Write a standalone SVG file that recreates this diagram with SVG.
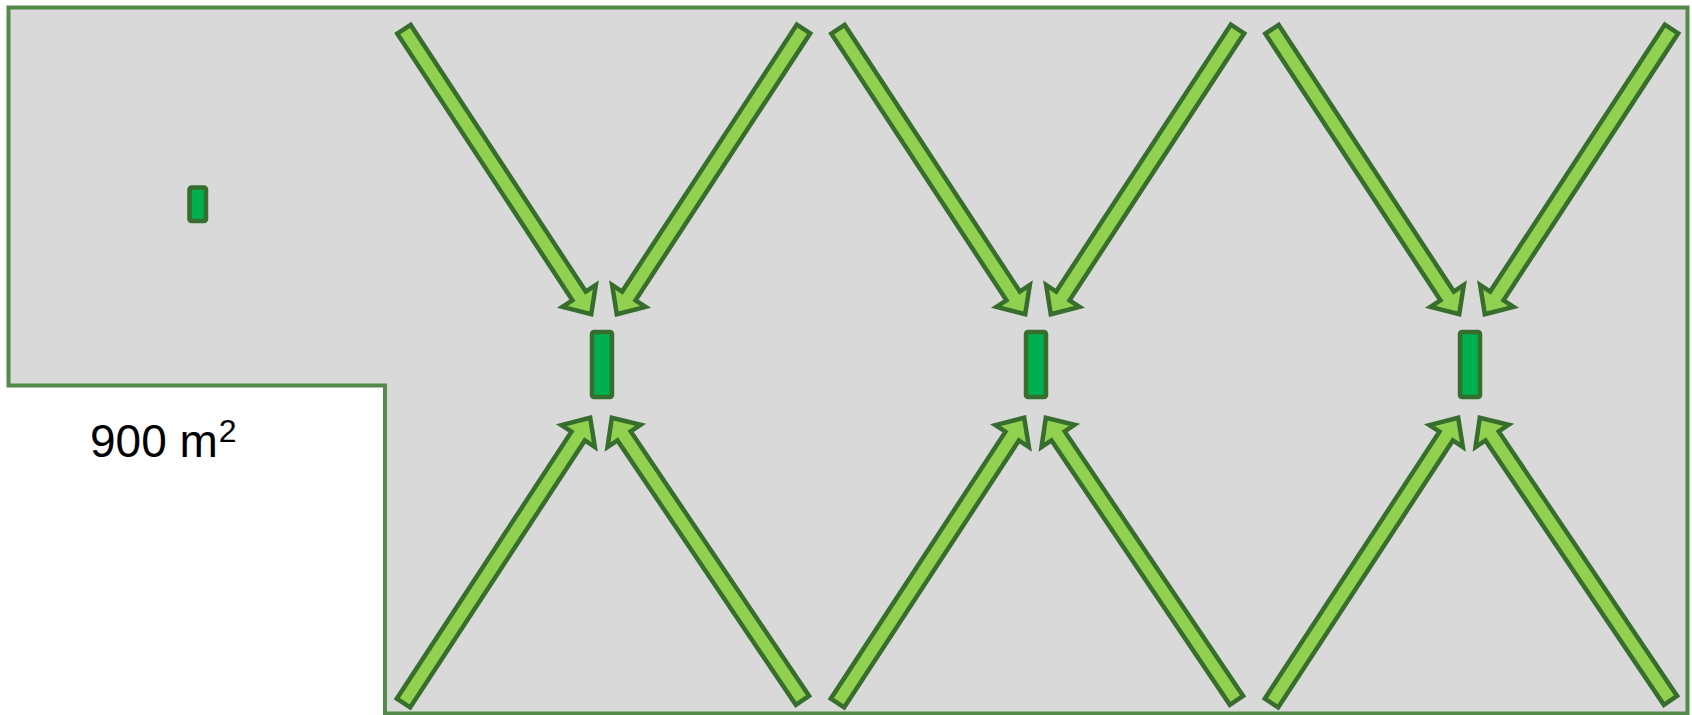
<svg xmlns="http://www.w3.org/2000/svg" xmlns:xlink="http://www.w3.org/1999/xlink" width="1692" height="715" viewBox="0 0 1692 715">
  <style>
    .floor { fill: #d9d9d9; stroke: #538a4a; stroke-width: 4; stroke-linejoin: miter; }
    .arrow { fill: #92d050; stroke: #376d2d; stroke-width: 4.5; stroke-linejoin: miter; stroke-miterlimit: 10; }
    .drain { fill: #00b050; stroke: #376d2d; stroke-width: 4.5; }
    .label { font-family: "Liberation Sans", Arial, sans-serif; fill: #000000; }
  </style>
  <defs>
    <path id="arr" d="M0,0 L-22,-20 L-22,-8 L-341,-8 L-341,8 L-22,8 L-22,20 Z"/>
    <g id="quad">
      <use xlink:href="#arr" class="arrow" transform="translate(591.2,314.3) rotate(56.7)"/>
      <use xlink:href="#arr" class="arrow" transform="translate(616.8,314.3) rotate(123.2)"/>
      <use xlink:href="#arr" class="arrow" transform="translate(590.2,417.7) rotate(-56.8)"/>
      <use xlink:href="#arr" class="arrow" transform="translate(611.8,417.7) rotate(-124)"/>
    </g>
  </defs>

  <g id="floor">
    <path class="floor" d="M8.5,7.5 H1687.5 V713.5 H385 V385.5 H8.5 Z"/>
  </g>

  <g id="drain-0">
    <rect class="drain" x="189.5" y="187.5" width="16.5" height="33.5" rx="2"/>
  </g>
  <g id="drain-1">
    <rect class="drain" x="592" y="332" width="20" height="65" rx="2"/>
  </g>
  <g id="drain-2">
    <rect class="drain" x="1026" y="332" width="20" height="65" rx="2"/>
  </g>
  <g id="drain-3">
    <rect class="drain" x="1460" y="332" width="20" height="65" rx="2"/>
  </g>

  <g id="slope-arrows">
    <use xlink:href="#quad"/>
    <use xlink:href="#quad" transform="translate(434,0)"/>
    <use xlink:href="#quad" transform="translate(868,0)"/>
  </g>

  <g id="area-label">
    <text class="label" x="90" y="456.5" font-size="46">900 m<tspan font-size="32" dx="1" dy="-15">2</tspan></text>
  </g>
</svg>
